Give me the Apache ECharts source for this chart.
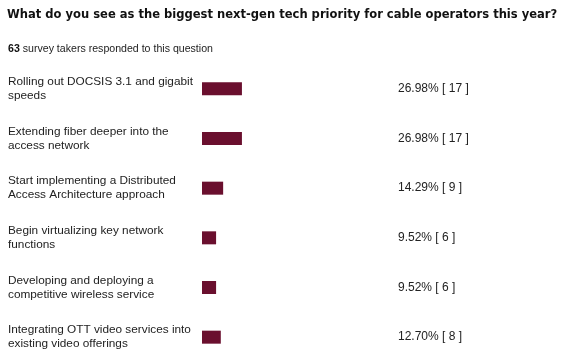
<!DOCTYPE html>
<html>
<head>
<meta charset="utf-8">
<script src="https://cdn.jsdelivr.net/npm/echarts@6/dist/echarts.min.js"></script>
<style>
html,body{margin:0;padding:0;background:#fff;}
#chart{width:561px;height:363px;}
</style>
</head>
<body>
<div id="chart"></div>
<script>
const titleText = "What do you see as the biggest next-gen tech priority for cable operators this year?";
const respondents = 63;
const categories = [
  "Rolling out DOCSIS 3.1 and gigabit\nspeeds",
  "Extending fiber deeper into the\naccess network",
  "Start implementing a Distributed\nAccess Architecture approach",
  "Begin virtualizing key network\nfunctions",
  "Developing and deploying a\ncompetitive wireless service",
  "Integrating OTT video services into\nexisting video offerings"
];
const percents = [26.98, 26.98, 14.29, 9.52, 9.52, 12.70];
const counts = [17, 17, 9, 6, 6, 8];
const valueLabels = percents.map((p, i) => p.toFixed(2) + "% [ " + counts[i] + " ]");

const chart = echarts.init(document.getElementById('chart'));
chart.setOption({
  animation: false,
  backgroundColor: '#ffffff',
  title: [
    {
      text: titleText,
      left: 7, top: 9, padding: 0,
      textStyle: {fontFamily: 'DejaVu Sans', fontWeight: 'bold', fontSize: 11.55, color: '#111'}
    },
    {
      text: '{b|' + respondents + '} survey takers responded to this question',
      left: 8, top: 44, padding: 0,
      textStyle: {
        fontFamily: 'Liberation Sans', fontWeight: 'normal', fontSize: 10.6, color: '#222',
        rich: {b: {fontFamily: 'Liberation Sans', fontWeight: 'bold', fontSize: 10.6, color: '#111'}}
      }
    }
  ],
  grid: {left: 202, width: 148, top: 64, height: 298},
  xAxis: {
    type: 'value', min: 0, max: 100, show: false
  },
  yAxis: [
    {
      type: 'category', data: categories, inverse: true,
      axisLine: {show: false}, axisTick: {show: false},
      axisLabel: {
        align: 'left', margin: 194,
        fontFamily: 'Liberation Sans', fontSize: 11.8, color: '#222',
        lineHeight: 14, padding: [15, 0, 0, 0]
      }
    },
    {
      type: 'category', data: valueLabels, inverse: true, position: 'right',
      axisLine: {show: false}, axisTick: {show: false},
      axisLabel: {
        align: 'left', margin: 48,
        fontFamily: 'Liberation Sans', fontSize: 12, color: '#222'
      }
    }
  ],
  series: [{
    type: 'bar', data: percents, barWidth: 13,
    itemStyle: {color: '#6a0f2e'}
  }]
});
</script>
</body>
</html>
